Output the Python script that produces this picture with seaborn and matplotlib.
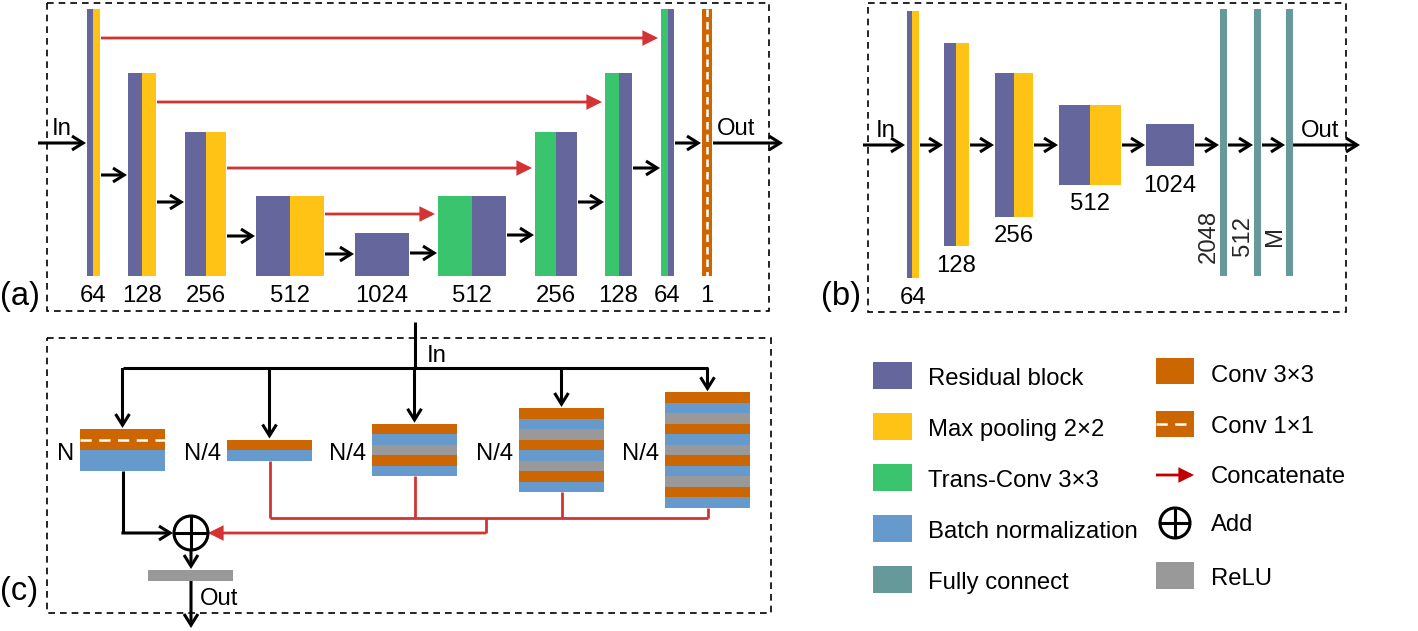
import matplotlib
matplotlib.use("Agg")
import matplotlib.pyplot as plt
import seaborn as sns
from matplotlib.patches import Rectangle, Circle, FancyArrowPatch

# --- colours ---
PURPLE = "#65669B"
YELLOW = "#FEC314"
GREEN = "#3AC46E"
BLUE = "#6699CC"
TEAL = "#669999"
ORANGE = "#CC6600"
GRAY = "#999999"
RED = "#D33333"
LEG_RED = "#C00000"

# --- panel (a): U-Net ---
enc_labels = ["64", "128", "256", "512", "1024"]
enc_left = [87, 128, 185, 256, 355]
enc_res_w = [6, 14, 21, 34, 54]
enc_pool_w = [7, 14, 20, 34, 0]
enc_top = [9, 73, 132, 196, 233]

dec_labels = ["512", "256", "128", "64"]
dec_left = [438, 535, 605, 661]
dec_trans_w = [34, 21, 14, 7]
dec_res_w = [34, 21, 13, 6]
dec_top = [196, 132, 73, 9]

out_label = "1"
out_left, out_w, out_top = 702, 10, 9
a_bottom = 276

a_flow_y = [175, 202, 236, 254, 253, 235, 202, 168, 143]
concat_y = [38, 102, 168, 214]

# --- panel (b): encoder + fully connected ---
b_labels = ["64", "128", "256", "512", "1024"]
b_left = [907, 944, 995, 1059, 1146]
b_res_w = [5, 12, 19, 31, 48]
b_pool_w = [7, 13, 19, 31, 0]
b_height = [267, 203, 144, 80, 42]
b_mid = 144.5

fc_labels = ["2048", "512", "M"]
fc_left = [1220, 1254, 1286]
fc_w = 7

# --- panel (c): multi-branch block ---
c_labels = ["N", "N/4", "N/4", "N/4", "N/4"]
c_left = [80, 227, 372, 519, 665]
c_width = 85
c_layers = [
    ["conv1", "bn"],
    ["conv", "bn"],
    ["conv", "bn", "relu", "conv", "bn"],
    ["conv", "bn", "relu", "conv", "bn", "relu", "conv", "bn"],
    ["conv", "bn", "relu", "conv", "bn", "relu", "conv", "bn", "relu", "conv", "bn"],
]
layer_h = 10.5
c_mid = 450

# --- legend ---
leg_left_items = ["Residual block", "Max pooling 2\u00d72", "Trans-Conv 3\u00d73",
                  "Batch normalization", "Fully connect"]
leg_left_colors = [PURPLE, YELLOW, GREEN, BLUE, TEAL]
leg_left_top = [362, 413, 464, 515, 566]
leg_right_items = ["Conv 3\u00d73", "Conv 1\u00d71", "Concatenate", "Add", "ReLU"]
leg_right_base = [382, 433, 483, 531, 585]

sns.set_theme(style="white")
plt.rcParams["font.family"] = ["Liberation Sans", "DejaVu Sans"]

fig = plt.figure(figsize=(14.18, 6.31), dpi=100)
ax = fig.add_axes([0, 0, 1, 1])
ax.set_xlim(0, 1418)
ax.set_ylim(631, 0)
ax.axis("off")

FS = 17.2
PANEL_FS = 23.5


def arrow(x0, y0, x1, y1, color="black", filled=False, lw=2.2):
    style = "-|>,head_length=0.8,head_width=0.4" if filled else "->,head_length=0.8,head_width=0.5"
    ax.add_patch(FancyArrowPatch((x0, y0), (x1, y1), arrowstyle=style, mutation_scale=10,
                                 lw=lw, color=color, shrinkA=0, shrinkB=0,
                                 joinstyle="miter", capstyle="butt"))


def line(xs, ys, color="black", lw=2.2):
    ax.plot(xs, ys, color=color, lw=lw, solid_capstyle="butt", solid_joinstyle="miter")


def box(x0, y0, x1, y1):
    ax.add_patch(Rectangle((x0, y0), x1 - x0, y1 - y0, fill=False, ec="black",
                           lw=1.2, ls=(0, (4, 3))))


def txt(x, y, s, ha="center", size=FS, **kw):
    ax.text(x, y, s, ha=ha, va="baseline", fontsize=size, color="black", **kw)


# ================= panel (a) =================
box(47, 3, 769, 311)
seq = []
for i, lab in enumerate(enc_labels):
    h = a_bottom - enc_top[i]
    ax.bar(enc_left[i], h, width=enc_res_w[i], bottom=enc_top[i], align="edge", color=PURPLE, lw=0)
    if enc_pool_w[i]:
        ax.bar(enc_left[i] + enc_res_w[i], h, width=enc_pool_w[i], bottom=enc_top[i],
               align="edge", color=YELLOW, lw=0)
    right = enc_left[i] + enc_res_w[i] + enc_pool_w[i]
    seq.append((enc_left[i], right))
    txt((enc_left[i] + right) / 2, 302, lab)

for i, lab in enumerate(dec_labels):
    h = a_bottom - dec_top[i]
    ax.bar(dec_left[i], h, width=dec_trans_w[i], bottom=dec_top[i], align="edge", color=GREEN, lw=0)
    ax.bar(dec_left[i] + dec_trans_w[i], h, width=dec_res_w[i], bottom=dec_top[i],
           align="edge", color=PURPLE, lw=0)
    right = dec_left[i] + dec_trans_w[i] + dec_res_w[i]
    seq.append((dec_left[i], right))
    txt((dec_left[i] + right) / 2, 302, lab)

ax.bar(out_left, a_bottom - out_top, width=out_w, bottom=out_top, align="edge", color=ORANGE, lw=0)
ax.plot([out_left + out_w / 2] * 2, [out_top, a_bottom], color="white", lw=1.8, ls=(0, (3, 2)))
seq.append((out_left, out_left + out_w))
txt(out_left + out_w / 2, 302, out_label)

for i, y in enumerate(a_flow_y):
    arrow(seq[i][1] + 1, y, seq[i + 1][0] - 1, y)
arrow(38, 143, 86, 143)
arrow(713, 143, 783, 143)
txt(52, 135, "In", ha="left")
txt(717, 135, "Out", ha="left")
txt(0, 305, "(a)", ha="left", size=PANEL_FS)

for i, y in enumerate(concat_y):
    j = len(dec_labels) - 1 - i
    arrow(seq[i][1] + 1, y, dec_left[j] - 3, y, color=RED, filled=True, lw=2.0)

# ================= panel (b) =================
box(868, 3, 1346, 312)
bseq = []
for i, lab in enumerate(b_labels):
    top = b_mid - b_height[i] / 2
    ax.bar(b_left[i], b_height[i], width=b_res_w[i], bottom=top, align="edge", color=PURPLE, lw=0)
    if b_pool_w[i]:
        ax.bar(b_left[i] + b_res_w[i], b_height[i], width=b_pool_w[i], bottom=top,
               align="edge", color=YELLOW, lw=0)
    right = b_left[i] + b_res_w[i] + b_pool_w[i]
    bseq.append((b_left[i], right))
    txt((b_left[i] + right) / 2, top + b_height[i] + 26, lab)

for i, lab in enumerate(fc_labels):
    ax.bar(fc_left[i], 267, width=fc_w, bottom=9, align="edge", color=TEAL, lw=0)
    bseq.append((fc_left[i], fc_left[i] + fc_w))
    ax.text(fc_left[i] - 11, 236, lab, rotation=90, ha="center", va="center", fontsize=FS)

for i in range(len(bseq) - 1):
    arrow(bseq[i][1] + 1, 145, bseq[i + 1][0] - 1, 145)
arrow(863, 145, 905, 145)
arrow(1293, 145, 1360, 145)
txt(876, 137, "In", ha="left")
txt(1301, 137, "Out", ha="left")
txt(821, 305, "(b)", ha="left", size=PANEL_FS)

# ================= panel (c) =================
box(47, 338, 771, 613)
layer_col = {"conv": ORANGE, "conv1": ORANGE, "bn": BLUE, "relu": GRAY}
c_tops = []
for i, layers in enumerate(c_layers):
    scale = 2 if i == 0 else 1
    total = len(layers) * layer_h * scale
    top = c_mid - total / 2
    c_tops.append((top, top + total))
    for k, name in enumerate(layers):
        y0 = top + k * layer_h * scale
        ax.bar(c_left[i], layer_h * scale, width=c_width, bottom=y0, align="edge",
               color=layer_col[name], lw=0)
        if name == "conv1":
            yc = y0 + layer_h * scale / 2
            ax.plot([c_left[i], c_left[i] + c_width], [yc, yc], color="white", lw=1.8,
                    ls=(0, (4.5, 3)))
    txt(c_left[i] - 6, 460, c_labels[i], ha="right")

centers = [l + c_width / 2 for l in c_left]
# input distribution
line([415, 415], [322, 368])
line([centers[0], centers[-1]], [368, 368])
for i, cx in enumerate(centers):
    arrow(cx, 368, cx, c_tops[i][0] - 1)
txt(427, 362, "In", ha="left")

# red concatenation lines
for i in range(1, 5):
    line([centers[i], centers[i]], [c_tops[i][1], 518], color=RED, lw=2.0)
line([centers[1], centers[-1]], [518, 518], color=RED, lw=2.0)
line([486, 486], [518, 533], color=RED, lw=2.0)
arrow(486, 533, 208, 533, color=RED, filled=True, lw=2.0)

# add node
cx, cy, r = 191, 533, 17
ax.add_patch(Circle((cx, cy), r, fill=False, ec="black", lw=2.2))
line([cx - r, cx + r], [cy, cy])
line([cx, cx], [cy - r, cy + r])
line([centers[0], centers[0]], [c_tops[0][1], 533])
arrow(centers[0] - 1.1, 533, cx - r - 1, 533)
arrow(cx, cy + r, cx, 569)
ax.bar(148, 11, width=85, bottom=570, align="edge", color=GRAY, lw=0)
arrow(cx, 581, cx, 628)
txt(200, 605, "Out", ha="left")
txt(0, 600, "(c)", ha="left", size=PANEL_FS)

# ================= legend =================
for i, lab in enumerate(leg_left_items):
    ax.bar(873, 27, width=39, bottom=leg_left_top[i], align="edge", color=leg_left_colors[i], lw=0)
    txt(928, leg_left_top[i] + 23, lab, ha="left")

ax.bar(1156, 26, width=38, bottom=358, align="edge", color=ORANGE, lw=0)
ax.bar(1156, 26, width=38, bottom=411, align="edge", color=ORANGE, lw=0)
ax.plot([1156, 1194], [424, 424], color="white", lw=1.8, ls=(0, (4.5, 3)))
arrow(1156, 475, 1194, 475, color=LEG_RED, filled=True, lw=2.0)
ax.add_patch(Circle((1175, 523), 15, fill=False, ec="black", lw=2.2))
line([1160, 1190], [523, 523])
line([1175, 1175], [508, 538])
ax.bar(1156, 27, width=38, bottom=562, align="edge", color=GRAY, lw=0)
for i, lab in enumerate(leg_right_items):
    txt(1211, leg_right_base[i], lab, ha="left")

fig.savefig("out.png", dpi=100)
